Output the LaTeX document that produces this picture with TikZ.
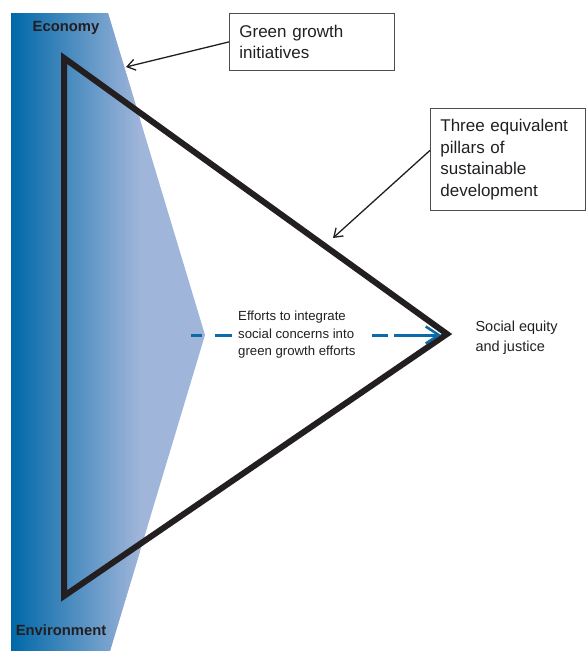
\documentclass[tikz,border=0pt]{standalone}
\usepackage{fontspec}
\setmainfont{Liberation Sans}
\usetikzlibrary{arrows.meta}
\definecolor{dkblue}{HTML}{0068A8}
\definecolor{ltblue}{HTML}{A0B5DA}
\definecolor{arrblue}{HTML}{0D6AA8}
\definecolor{ink}{HTML}{231F20}
\begin{document}
\begin{tikzpicture}[x=1pt,y=-1pt,
    boxnode/.style={draw=ink!80,line width=0.8pt,rectangle,align=left,anchor=north west,
      font=\fontsize{17}{21.5}\selectfont,text=ink,inner xsep=10pt},
    pointer/.style={draw=ink,line width=1.3pt,-{Straight Barb[length=8pt,width=11pt]}}]

      \useasboundingbox (0,0) rectangle (586,651);

      % shaded band behind the triangle
      \fill[ltblue] (11,13) -- (108,13) -- (205,335) -- (110,651) -- (11,651) -- cycle;
      \begin{scope}
        \clip (11,13) -- (108,13) -- (205,335) -- (110,651) -- (11,651) -- cycle;
        \shade[left color=dkblue,right color=ltblue] (11,13) rectangle (140,651);
      \end{scope}

      \coordinate (top)   at (64,58);
      \coordinate (tip)   at (447,334);
      \coordinate (bot)   at (64,596);
      \coordinate (dashstart) at (191,335);
      \coordinate (dashgap)   at (388,335);
      \coordinate (arrowstart) at (394,335);
      \coordinate (dashend)   at (441,335);
      \coordinate (greentip)  at (126,67);
      \coordinate (pillartip) at (333,238);

      \draw[ink,line width=6pt,line join=miter] (top) -- (tip) -- (bot) -- cycle;

      \begin{scope}[every node/.style={text=ink}]
        \node[font=\bfseries\fontsize{14.8}{16}\selectfont] (economy) at (66,28) {Economy};
        \node[font=\bfseries\fontsize{14.8}{16}\selectfont] (environment) at (61,630) {Environment};
        \node[align=left,anchor=west,font=\fontsize{13.2}{17.5}\selectfont,inner xsep=6pt,inner ysep=2pt]
          (efforts) at (232,335) {Efforts to integrate\\social concerns into\\green growth efforts};
        \node[align=left,anchor=west,font=\fontsize{14.5}{20}\selectfont] (social) at (472,338)
          {Social equity\\and justice};
      \end{scope}

      \node[boxnode,text width=145pt,minimum height=57pt] (green) at (229,13)
        {Green growth\\initiatives};
      \node[boxnode,text width=135pt,minimum height=102pt] (pillars) at (430,108)
        {Three equivalent\\pillars of\\sustainable\\development};

      \draw[pointer] (green.west) -- (greentip);
      \draw[pointer] ([yshift=9pt]pillars.west) -- (pillartip);

      \begin{scope}[arrblue,line width=3pt]
        \draw[dash pattern=on 17pt off 13pt] (efforts.west) -- (dashstart);
        \draw ([xshift=10pt]efforts.east) -- (dashgap);
        \draw[-{Straight Barb[length=13pt,width=17pt,line width=2.5pt]}] (arrowstart) -- (dashend);
      \end{scope}

    \end{tikzpicture}
\end{document}
